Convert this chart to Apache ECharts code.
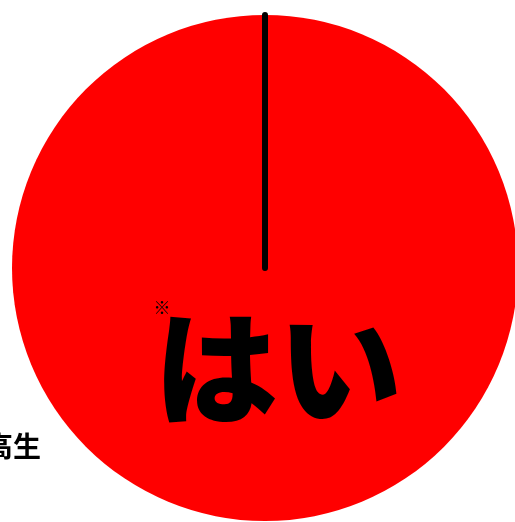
<!DOCTYPE html>
<html>
<head>
<meta charset="utf-8">
<script src="https://cdn.jsdelivr.net/npm/echarts@6/dist/echarts.min.js"></script>
<style>
  html, body { margin: 0; padding: 0; background: #fff; }
  #chart { width: 515px; height: 522px; }
</style>
</head>
<body>
<div id="chart"></div>
<script>
// answers and share (percent)
const answers = ["はい", "いいえ"];
const shares = [100, 0];
const groupLabel = "中高生";
const noteMark = "※";

const chart = echarts.init(document.getElementById("chart"));

const pieData = answers.map(function (name, i) {
  return {
    name: name,
    value: shares[i],
    itemStyle: i === 0
      ? { color: "#ff0000", borderWidth: 0 }
      : { color: "#ff0000", borderColor: "#000", borderWidth: 6 }
  };
});

const option = {
  animation: false,
  series: [
    {
      type: "pie",
      center: [265, 268],
      radius: [0, 253],
      startAngle: 90,
      clockwise: true,
      silent: true,
      label: { show: false },
      labelLine: { show: false },
      data: pieData
    }
  ],
  graphic: [
    {
      type: "text",
      z: 100,
      x: 278,
      y: 368,
      style: {
        text: answers[0],
        font: "900 124px 'Noto Sans CJK JP'",
        fill: "#000",
        align: "center",
        verticalAlign: "middle"
      }
    },
    {
      type: "text",
      z: 100,
      x: 162,
      y: 308,
      style: {
        text: noteMark,
        font: "17px 'Noto Sans CJK JP'",
        fill: "#000",
        align: "center",
        verticalAlign: "middle"
      }
    },
    {
      type: "text",
      z: 100,
      x: 41,
      y: 446,
      style: {
        text: groupLabel,
        font: "bold 28px 'Noto Sans CJK JP'",
        fill: "#000",
        align: "right",
        verticalAlign: "middle"
      }
    }
  ]
};

chart.setOption(option);
</script>
</body>
</html>
